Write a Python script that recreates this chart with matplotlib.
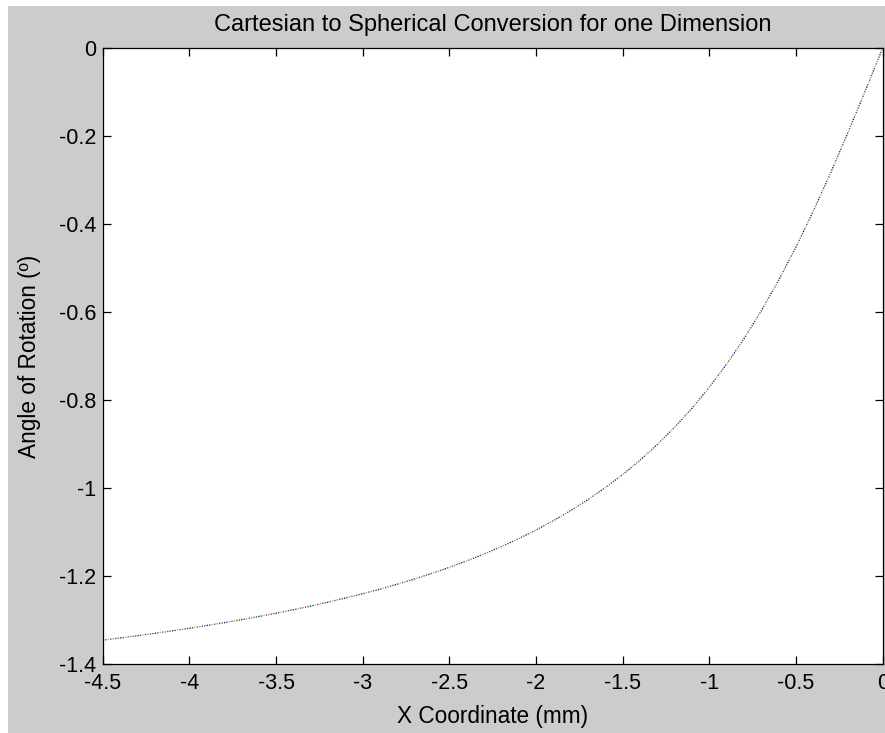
import matplotlib
matplotlib.use("Agg")
import matplotlib.pyplot as plt
from matplotlib.patches import Rectangle

# Sampled conversion: x position (mm) -> rotation angle
x_mm = [-4.5, -4.4, -4.3, -4.2, -4.1, -4.0, -3.9, -3.8, -3.7, -3.6,
        -3.5, -3.4, -3.3, -3.2, -3.1, -3.0, -2.9, -2.8, -2.7, -2.6,
        -2.5, -2.4, -2.3, -2.2, -2.1, -2.0, -1.9, -1.8, -1.7, -1.6,
        -1.5, -1.4, -1.3, -1.2, -1.1, -1.0, -0.9, -0.8, -0.7, -0.6,
        -0.5, -0.4, -0.3, -0.2, -0.1, 0.0]
angle = [-1.3458, -1.3409, -1.3357, -1.3303, -1.3247, -1.3188, -1.3126, -1.3061, -1.2993, -1.2921,
         -1.2846, -1.2766, -1.2683, -1.2594, -1.2500, -1.2403, -1.2298, -1.2186, -1.2066, -1.1939,
         -1.1803, -1.1657, -1.1500, -1.1332, -1.1151, -1.0955, -1.0743, -1.0513, -1.0263, -0.9991,
         -0.9694, -0.9368, -0.9010, -0.8617, -0.8185, -0.7708, -0.7183, -0.6605, -0.5970, -0.5276,
         -0.4520, -0.3705, -0.2834, -0.1918, -0.0968, 0.0]

x_ticks = [-4.5, -4.0, -3.5, -3.0, -2.5, -2.0, -1.5, -1.0, -0.5, 0.0]
x_tick_labels = ["-4.5", "-4", "-3.5", "-3", "-2.5", "-2", "-1.5", "-1", "-0.5", "0"]
y_ticks = [0.0, -0.2, -0.4, -0.6, -0.8, -1.0, -1.2, -1.4]
y_tick_labels = ["0", "-0.2", "-0.4", "-0.6", "-0.8", "-1", "-1.2", "-1.4"]

dot_colors = [(0, 0, 1), (0, 0.5, 0), (1, 0, 0), (0, 0.75, 0.75),
              (0.75, 0, 0.75), (0.75, 0.75, 0), (0.25, 0.25, 0.25)]

plt.rcParams["font.family"] = ["Liberation Sans", "DejaVu Sans"]
plt.rcParams["axes.unicode_minus"] = False
plt.rcParams["lines.scale_dashes"] = False

W, H = 885, 733
fig = plt.figure(figsize=(W / 100, H / 100), dpi=100, facecolor="white")
fig.patches.append(Rectangle((8 / W, 0), 1, (H - 6) / H, transform=fig.transFigure,
                             facecolor="#cccccc", edgecolor="none", zorder=-10))

left, right, top, bottom = 102.7, 882.7, 48.0, 664.0
ax = fig.add_axes([left / W, (H - bottom) / H, (right - left) / W, (bottom - top) / H])
ax.set_facecolor("white")

# Multicoloured dotted trace: interleaved dash patterns, one colour each
step = 1.8   # points between consecutive dots
dot = 0.95
period = step * len(dot_colors)
for k, c in enumerate(dot_colors):
    ax.plot(x_mm, angle, color=c, lw=0.95,
            linestyle=(k * step, (dot, period - dot)), dash_capstyle="butt")

ax.set_xlim(-4.5, 0)
ax.set_ylim(-1.4, 0)
ax.set_xticks(x_ticks)
ax.set_xticklabels(x_tick_labels)
ax.set_yticks(y_ticks)
ax.set_yticklabels(y_tick_labels)

ax.tick_params(direction="in", length=5.8, width=0.9, top=True, right=True,
               labelsize=15.5, colors="black")
ax.tick_params(axis="x", pad=6.5)
ax.tick_params(axis="y", pad=4.5)
for s in ax.spines.values():
    s.set_linewidth(0.9)
    s.set_color("black")

ax.set_title("Cartesian to Spherical Conversion for one Dimension", fontsize=17, pad=12)
ax.set_xlabel("X Coordinate (mm)", fontsize=16.3)
ax.set_ylabel("Angle of Rotation (\u00ba)", fontsize=16.3)
ax.xaxis.set_label_coords(0.5, -(716 - bottom) / (bottom - top))
ax.xaxis.label.set_verticalalignment("center")
ax.yaxis.set_label_coords((30 - left) / (right - left), 0.5)
ax.yaxis.label.set_verticalalignment("center")

fig.savefig("out.png", dpi=100, facecolor=fig.get_facecolor())
